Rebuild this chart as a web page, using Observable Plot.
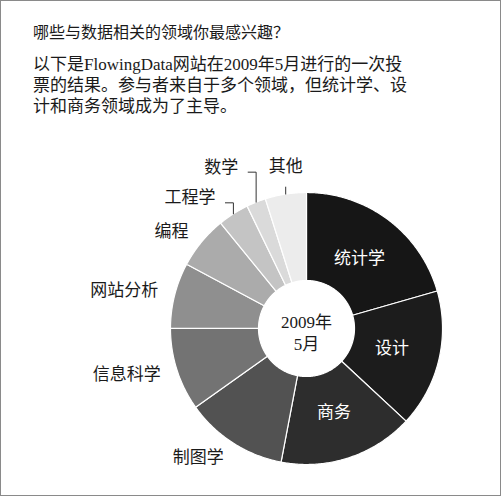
<!DOCTYPE html>
<html><head><meta charset="utf-8">
<script src="https://cdn.jsdelivr.net/npm/d3@7"></script>
<script src="https://cdn.jsdelivr.net/npm/@observablehq/plot@0.6"></script>
<style>
html,body{margin:0;padding:0;background:#fff;}
#frame{box-sizing:border-box;width:501px;height:496px;border:1px solid #8a8a8a;overflow:hidden;background:#fff;}
#head{height:135px;padding-left:32px;box-sizing:border-box;}
#title{padding-top:20px;font:16px/20px "Noto Sans CJK SC",sans-serif;color:#1a1a1a;}
#sub{margin-top:13px;font:17px/21px "Liberation Serif","Noto Sans CJK SC",serif;color:#1a1a1a;}
#chart svg{display:block;}
</style></head><body>
<div id="frame">
  <div id="head">
    <div id="title">哪些与数据相关的领域你最感兴趣？</div>
    <div id="sub">
      <div>以下是FlowingData网站在2009年5月进行的一次投</div>
      <div>票的结果。参与者来自于多个领域，但统计学、设</div>
      <div>计和商务领域成为了主导。</div>
    </div>
  </div>
  <div id="chart"></div>
</div>
<script>
// ---- data ----
const categories = ["统计学", "设计", "商务", "制图学", "信息科学", "网站分析", "编程", "工程学", "数学", "其他"];
const shares = [20.6, 16.4, 16.1, 12.2, 9.9, 7.8, 6.3, 3.7, 2.3, 4.9];
const grays = ["#161616", "#1c1c1c", "#2d2d2d", "#525252", "#737373", "#8f8f8f", "#ababab", "#c4c4c4", "#dadada", "#ececec"];
const insideLabels = ["统计学", "设计", "商务"];
const leaderLabels = ["工程学", "数学", "其他"];
const centerLabel = "2009年\n5月";

// ---- layout ----
const W = 499, H = 359;
const cx = 305, cy = 192, R = 136, R0 = 48;
const leaderRise = {"工程学": 11, "数学": 30, "其他": 7};

const arcs = d3.pie().sort(null).value(d => d.v)(categories.map((c, i) => ({c, v: shares[i]})));
const pt = (a, r) => ({x: cx + r * Math.sin(a), y: cy - r * Math.cos(a)});

// slice polygons
const polys = [];
arcs.forEach(a => {
  const n = Math.max(4, Math.ceil((a.endAngle - a.startAngle) / 0.01));
  const pts = [];
  for (let k = 0; k <= n; k++) pts.push(pt(a.startAngle + (a.endAngle - a.startAngle) * k / n, R));
  for (let k = n; k >= 0; k--) pts.push(pt(a.startAngle + (a.endAngle - a.startAngle) * k / n, R0));
  pts.push(pts[0]);
  pts.forEach(p => polys.push({...p, name: a.data.c}));
});

const mid = a => (a.startAngle + a.endAngle) / 2;
const inside = arcs.filter(a => insideLabels.includes(a.data.c)).map(a => ({...pt(mid(a), 88), name: a.data.c}));
const outside = arcs.filter(a => !insideLabels.includes(a.data.c) && !leaderLabels.includes(a.data.c))
  .map(a => ({...pt(mid(a), R + 17), name: a.data.c}));

const leaderPts = [], leaderText = [];
arcs.filter(a => leaderLabels.includes(a.data.c)).forEach(a => {
  const p = pt(mid(a), R);
  const rise = leaderRise[a.data.c];
  const top = {x: p.x, y: p.y - rise};
  if (a.data.c === "其他") {
    leaderPts.push({...p, name: a.data.c}, {...top, name: a.data.c});
    leaderText.push({x: p.x, y: top.y - 21, name: a.data.c, anchor: "middle"});
  } else {
    const end = {x: top.x - 8, y: top.y};
    leaderPts.push({...p, name: a.data.c}, {...top, name: a.data.c}, {...end, name: a.data.c});
    leaderText.push({x: end.x - 10, y: top.y - 5, name: a.data.c, anchor: "end"});
  }
});

const font = '"Liberation Serif","Noto Sans CJK SC",serif';
const chart = Plot.plot({
  width: W, height: H,
  margin: 0,
  x: {domain: [0, W], range: [0, W], axis: null},
  y: {domain: [0, H], range: [0, H], axis: null},
  color: {type: "ordinal", domain: categories, range: grays},
  style: {fontFamily: font, background: "#fff", color: "#1a1a1a"},
  marks: [
    Plot.line(polys, {x: "x", y: "y", z: "name", fill: "name", stroke: "#fff", strokeWidth: 1.2, curve: "linear"}),
    Plot.text(inside, {x: "x", y: "y", text: "name", fill: "#fff", fontSize: 17}),
    Plot.text(outside, {x: "x", y: "y", text: "name", fill: "#1a1a1a", fontSize: 17, textAnchor: "end"}),
    Plot.line(leaderPts, {x: "x", y: "y", z: "name", stroke: "#333", strokeWidth: 1}),
    Plot.text(leaderText.filter(d => d.anchor === "end"), {x: "x", y: "y", text: "name", fill: "#1a1a1a", fontSize: 17, textAnchor: "end"}),
    Plot.text(leaderText.filter(d => d.anchor === "middle"), {x: "x", y: "y", text: "name", fill: "#1a1a1a", fontSize: 17}),
    Plot.text([centerLabel], {x: () => cx, y: () => cy + 3, text: d => d, fill: "#1a1a1a", fontSize: 17, lineHeight: 1.3})
  ]
});
document.getElementById("chart").appendChild(chart);
</script>
</body></html>
